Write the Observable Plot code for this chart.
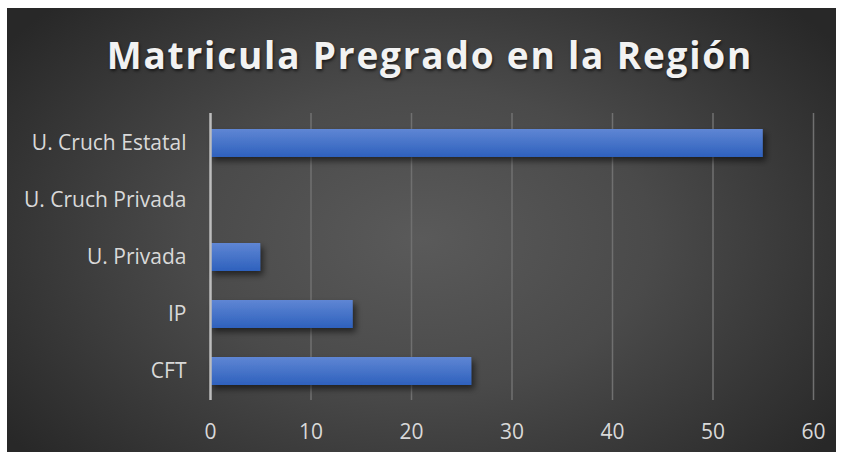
<!DOCTYPE html>
<html>
<head>
<meta charset="utf-8">
<script src="https://cdn.jsdelivr.net/npm/d3@7"></script>
<script src="https://cdn.jsdelivr.net/npm/@observablehq/plot@0.6"></script>
<style>
  html, body { margin: 0; padding: 0; background: #ffffff; }
  #wrap { position: relative; width: 844px; height: 460px; overflow: hidden; }
  #bg { position: absolute; left: 7px; top: 8px; width: 829px; height: 444px;
        background: radial-gradient(ellipse 62% 75% at 50% 52%, #5a5a5a 0%, #4a4a4a 45%, #282828 100%); }
  #title { position: absolute; left: 8px; width: 844px; top: 29px; text-align: center;
           font-family: "Open Sans", sans-serif; font-weight: 700; font-size: 37px; color: #f2f2f2;
           letter-spacing: 1.8px; white-space: nowrap; text-shadow: 1px 2px 3px rgba(0,0,0,0.6); }
  #chart { position: absolute; left: 0; top: 0; }
</style>
</head>
<body>
<div id="wrap">
  <div id="bg"></div>
  <div id="title">Matricula Pregrado en la Región</div>
  <div id="chart"></div>
</div>
<script>
const categories = ["U. Cruch Estatal", "U. Cruch Privada", "U. Privada", "IP", "CFT"];
const values = [55, 0, 5, 14.2, 26];
const xTicks = [0, 10, 20, 30, 40, 50, 60];

const data = categories.map((c, i) => ({category: c, value: values[i]}));

const plot = Plot.plot({
  width: 844,
  height: 460,
  marginLeft: 210,
  marginRight: 31,
  marginTop: 113,
  marginBottom: 60,
  style: {background: "transparent", fontFamily: "Open Sans, sans-serif", fontSize: "21px", color: "#d9d9d9"},
  x: {domain: [0, 60], ticks: xTicks, label: null, tickSize: 0, tickPadding: 24},
  y: {domain: categories, label: null, tickSize: 0, tickPadding: 24, paddingInner: 0.51, paddingOuter: 0.255},
  marks: [
    Plot.gridX(xTicks.filter(d => d > 0), {stroke: "#707070", strokeOpacity: 1, strokeWidth: 1.5}),
    Plot.barX(data, {x: "value", y: "category", fill: "url(#barGrad)"}),
    Plot.ruleX([0], {stroke: "#bdbdbd", strokeWidth: 2.5})
  ]
});

const svg = d3.select(plot);
const defs = svg.insert("defs", ":first-child");
const g = defs.append("linearGradient").attr("id", "barGrad").attr("x1", 0).attr("y1", 0).attr("x2", 0).attr("y2", 1);
g.append("stop").attr("offset", "0%").attr("stop-color", "#5f86d4");
g.append("stop").attr("offset", "100%").attr("stop-color", "#2e61bd");
const f = defs.append("filter").attr("id", "shadow").attr("x", "-10%").attr("y", "-30%").attr("width", "130%").attr("height", "190%");
f.append("feDropShadow").attr("dx", 3).attr("dy", 4).attr("stdDeviation", 3).attr("flood-color", "#000").attr("flood-opacity", 0.55);
svg.selectAll("rect").filter(function() { return this.getAttribute("fill") === "url(#barGrad)" || (this.parentNode && this.parentNode.getAttribute("fill") === "url(#barGrad)"); })
   .attr("filter", "url(#shadow)");
svg.selectAll("[aria-label='x-axis tick label'], [aria-label='y-axis tick label']").attr("fill", "#d9d9d9");

document.getElementById("chart").appendChild(plot);
</script>
</body>
</html>
